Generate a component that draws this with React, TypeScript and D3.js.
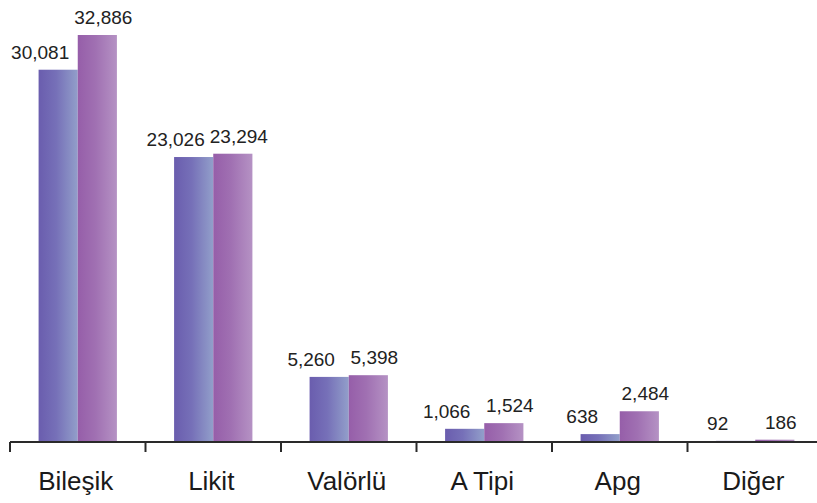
import React from "react";
import * as d3 from "d3";

const categories = ["Bileşik", "Likit", "Valörlü", "A Tipi", "Apg", "Diğer"];
const seriesA = [30081, 23026, 5260, 1066, 638, 92];
const seriesB = [32886, 23294, 5398, 1524, 2484, 186];
const seriesKeys = ["a", "b"];

const W = 817;
const H = 503;
const baseY = 442;

export default function App() {
  const x = d3.scaleBand<string>().domain(categories).range([10, 823]).paddingInner(0).paddingOuter(0);
  const inner = d3.scaleBand<string>().domain(seriesKeys).range([0, x.bandwidth()]).paddingInner(0).paddingOuter(0.73);
  const y = d3.scaleLinear().domain([0, 32886]).range([baseY, 35]);
  const fmt = d3.format(",");
  const fills = ["url(#gA)", "url(#gB)"];
  const labelDx = [-18, 6];
  const data = [seriesA, seriesB];

  return (
    <svg width={W} height={H} style={{ position: "absolute", left: 0, top: 0, background: "#fff" }}>
      <defs>
        <linearGradient id="gA" x1="0" x2="1" y1="0" y2="0">
          <stop offset="0" stopColor="#6a5dae" />
          <stop offset="0.45" stopColor="#7670b8" />
          <stop offset="1" stopColor="#929fca" />
        </linearGradient>
        <linearGradient id="gB" x1="0" x2="1" y1="0" y2="0">
          <stop offset="0" stopColor="#965ea9" />
          <stop offset="0.45" stopColor="#a070b2" />
          <stop offset="1" stopColor="#b592c4" />
        </linearGradient>
      </defs>
      {categories.map((c, i) => (
        <g key={c} transform={`translate(${x(c)},0)`}>
          {data.map((s, k) => {
            const bx = inner(seriesKeys[k])!;
            const bw = inner.bandwidth();
            const top = y(s[i]);
            return (
              <g key={k}>
                <rect x={bx} y={top} width={bw} height={baseY - top} fill={fills[k]} />
                <text
                  x={bx + bw / 2 + labelDx[k]}
                  y={top - 11}
                  textAnchor="middle"
                  fontFamily="'Liberation Sans', Arial, sans-serif"
                  fontSize={19}
                  fill="#222"
                >
                  {fmt(s[i])}
                </text>
              </g>
            );
          })}
          <text
            x={x.bandwidth() / 2 - 2}
            y={490}
            textAnchor="middle"
            fontFamily="'Liberation Sans', Arial, sans-serif"
            fontSize={26}
            fill="#1a1a1a"
          >
            {c}
          </text>
        </g>
      ))}
      <line x1={10} x2={W} y1={baseY} y2={baseY} stroke="#2a2a2a" strokeWidth={2} />
      {categories.map((c) => (
        <line key={c} x1={x(c)!} x2={x(c)!} y1={baseY} y2={baseY + 10} stroke="#2a2a2a" strokeWidth={2} />
      ))}
    </svg>
  );
}
